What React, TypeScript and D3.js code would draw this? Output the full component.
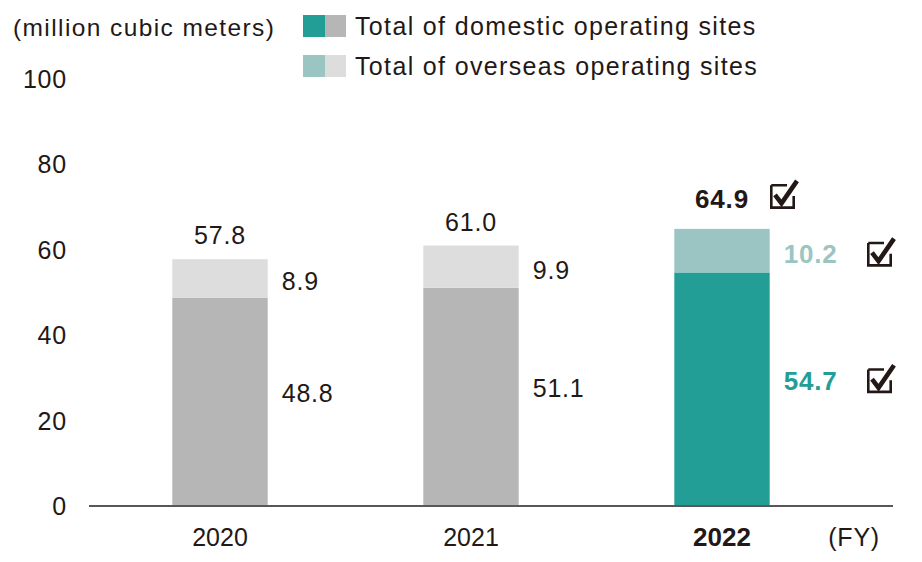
import React from 'react'
import * as d3 from 'd3'

// Water usage (million cubic meters)
const years = ['2020', '2021', '2022']
const domestic = [48.8, 51.1, 54.7]
const overseas = [8.9, 9.9, 10.2]
const totals = [57.8, 61.0, 64.9]
const yTicks = [0, 20, 40, 60, 80, 100]
const legendLabels = ['Total of domestic operating sites', 'Total of overseas operating sites']

const W = 922
const H = 562
const FONT = '"Liberation Sans", Arial, Helvetica, sans-serif'
const TEXT = '#231815'
const TEAL = '#239e97'
const TEAL_LIGHT = '#9bc5c2'
const GRAY = '#b5b6b5'
const GRAY_LIGHT = '#dcdddc'
const HIGHLIGHT = '2022'

// simple check box mark, x/y = top-left of the box
const CheckBox: React.FC<{ x: number; y: number }> = ({ x, y }) => (
  <g transform={`translate(${x},${y})`}>
    <path d="M1.3,1.3 H17 M1.3,1.3 V23.7 H23.7 V12" fill="none" stroke={TEXT} strokeWidth={2.6} />
    <path d="M5,11 L11.5,19.5 L27,-3" fill="none" stroke={TEXT} strokeWidth={4.6} strokeLinejoin="miter" />
  </g>
)

const App: React.FC = () => {
  const x = d3
    .scaleBand<string>()
    .domain(years)
    .range([94.5, 847.5])
    .paddingInner(0.62)
    .paddingOuter(0.31)
  const y = d3.scaleLinear().domain([0, 100]).range([506, 79])
  const bw = x.bandwidth()

  return (
    <svg width={W} height={H} style={{ position: 'absolute', left: 0, top: 0 }} fontFamily={FONT}>
      <rect width={W} height={H} fill="#fff" />

      {/* unit label */}
      <text x={13} y={36} fontSize={24.5} letterSpacing={1.4} fill={TEXT}>
        (million cubic meters)
      </text>

      {/* legend */}
      {legendLabels.map((label, i) => {
        const ly = 15 + i * 40
        return (
          <g key={label}>
            <rect x={303} y={ly} width={22} height={22} fill={i === 0 ? TEAL : TEAL_LIGHT} />
            <rect x={325} y={ly} width={21} height={22} fill={i === 0 ? GRAY : GRAY_LIGHT} />
            <text x={355} y={ly + 20} fontSize={25} letterSpacing={1.35} fill={TEXT}>
              {label}
            </text>
          </g>
        )
      })}

      {/* y tick labels */}
      {yTicks.map((t) => (
        <text key={t} x={67} y={y(t)} dy="0.36em" textAnchor="end" fontSize={25} letterSpacing={0.8} fill={TEXT}>
          {t}
        </text>
      ))}

      {/* bars */}
      {years.map((yr, i) => {
        const hl = yr === HIGHLIGHT
        const x0 = x(yr)!
        const cx = x0 + bw / 2
        const dTop = y(domestic[i])
        const tTop = y(totals[i])
        const labelX = x0 + bw + 14
        const dMid = (dTop + y(0)) / 2 - 9
        const oMid = (tTop + dTop) / 2 + 3
        const totalY = tTop - (hl ? 21 : 15)
        const fs = hl ? 26 : 25
        return (
          <g key={yr}>
            <rect x={x0} y={dTop} width={bw} height={y(0) - dTop} fill={hl ? TEAL : GRAY} />
            <rect x={x0} y={tTop} width={bw} height={dTop - tTop} fill={hl ? TEAL_LIGHT : GRAY_LIGHT} />
            <text
              x={cx}
              y={totalY}
              textAnchor="middle"
              fontSize={fs}
              letterSpacing={0.8}
              fontWeight={hl ? 'bold' : 'normal'}
              fill={TEXT}
            >
              {totals[i].toFixed(1)}
            </text>
            <text
              x={labelX}
              y={oMid}
              dy="0.36em"
              fontSize={fs}
              letterSpacing={0.8}
              fontWeight={hl ? 'bold' : 'normal'}
              fill={hl ? TEAL_LIGHT : TEXT}
            >
              {overseas[i].toFixed(1)}
            </text>
            <text
              x={labelX}
              y={dMid}
              dy="0.36em"
              fontSize={fs}
              letterSpacing={0.8}
              fontWeight={hl ? 'bold' : 'normal'}
              fill={hl ? TEAL : TEXT}
            >
              {domestic[i].toFixed(1)}
            </text>
            {hl && (
              <>
                <CheckBox x={cx + 48} y={totalY - 24} />
                <CheckBox x={867} y={oMid - 12} />
                <CheckBox x={867} y={dMid - 12} />
              </>
            )}
          </g>
        )
      })}

      {/* x axis */}
      <line x1={89} x2={893} y1={y(0)} y2={y(0)} stroke="#595757" strokeWidth={2} />
      {years.map((yr) => (
        <text
          key={yr}
          x={x(yr)! + bw / 2}
          y={537}
          dy="0.36em"
          textAnchor="middle"
          fontSize={yr === HIGHLIGHT ? 26 : 25}
          fontWeight={yr === HIGHLIGHT ? 'bold' : 'normal'}
          fill={TEXT}
        >
          {yr}
        </text>
      ))}
      <text x={880} y={537} dy="0.36em" textAnchor="end" fontSize={25} letterSpacing={0.8} fill={TEXT}>
        (FY)
      </text>
    </svg>
  )
}

export default App
